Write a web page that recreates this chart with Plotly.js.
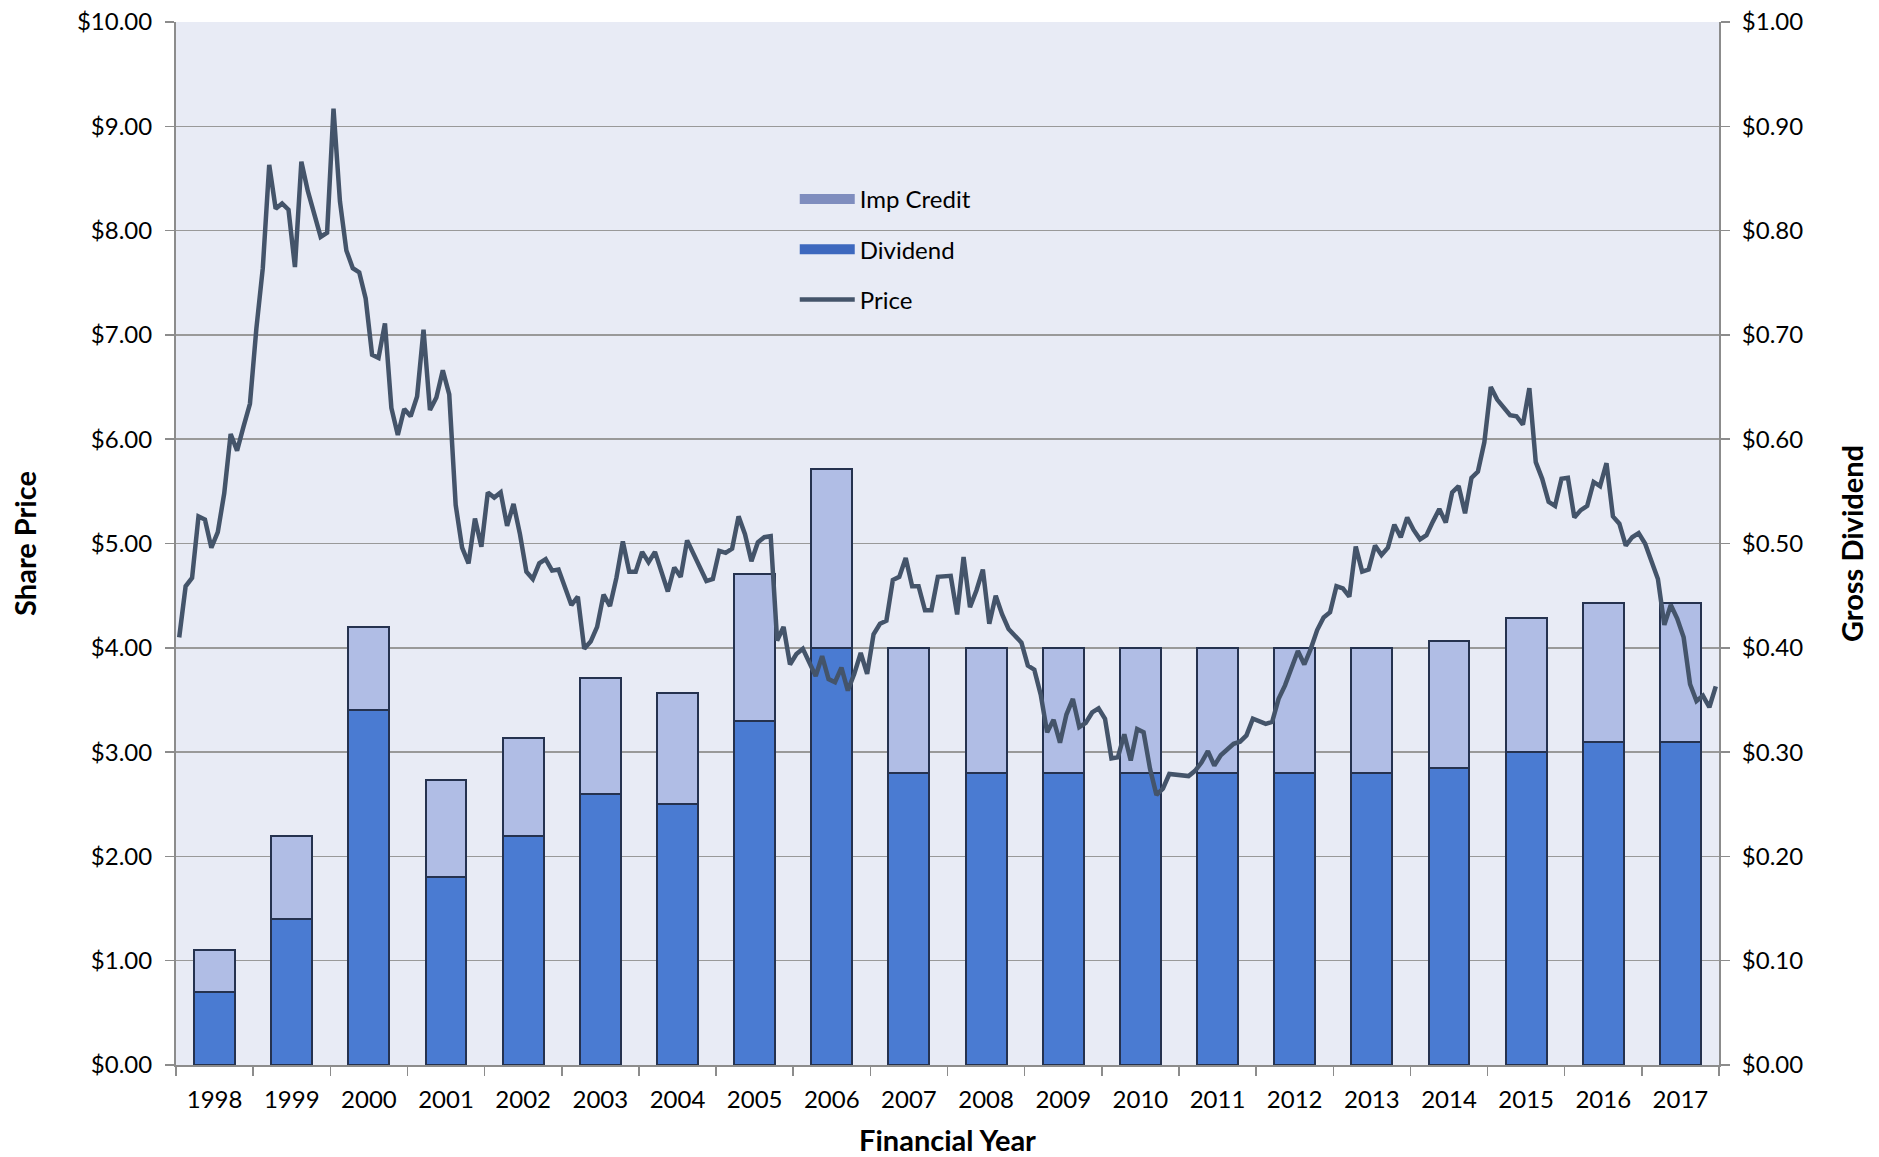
<!DOCTYPE html>
<html>
<head>
<meta charset="utf-8">
<script src="https://cdn.plot.ly/plotly-3.0.1.min.js"></script>
<style>
  html, body { margin: 0; padding: 0; background: #ffffff; }
  #chart { width: 1879px; height: 1157px; }
</style>
</head>
<body>
<div id="chart"></div>
<script>
// Financial years (categories)
const years = ['1998','1999','2000','2001','2002','2003','2004','2005','2006','2007',
               '2008','2009','2010','2011','2012','2013','2014','2015','2016','2017'];

// Cash dividend per share ($)
const dividend = [0.07,0.14,0.34,0.18,0.22,0.26,0.25,0.33,0.40,0.28,
                  0.28,0.28,0.28,0.28,0.28,0.28,0.285,0.30,0.31,0.31];

// Imputation (franking) credit per share ($)
const impCredit = [0.04,0.08,0.08,0.093,0.094,0.111,0.107,0.141,0.171,0.12,
                   0.12,0.12,0.12,0.12,0.12,0.12,0.122,0.129,0.133,0.133];

// Monthly share price ($), Jul 1997 .. Jun 2017
const price = [
4.10,4.59,4.67,5.26,5.23,4.96,5.11,5.48,6.05,5.89,6.12,6.34,
7.06,7.64,8.63,8.21,8.26,8.20,7.65,8.66,8.38,8.16,7.94,7.98,
9.17,8.28,7.81,7.64,7.60,7.35,6.81,6.78,7.11,6.30,6.04,6.29,
6.22,6.41,7.05,6.28,6.40,6.66,6.43,5.37,4.96,4.81,5.24,4.97,
5.49,5.44,5.49,5.17,5.38,5.09,4.73,4.66,4.81,4.85,4.74,4.75,
4.58,4.41,4.49,3.99,4.06,4.20,4.51,4.40,4.67,5.02,4.73,4.73,
4.92,4.82,4.92,4.74,4.54,4.77,4.68,5.03,4.90,4.77,4.64,4.66,
4.93,4.91,4.95,5.26,5.09,4.83,5.01,5.06,5.07,4.07,4.20,3.84,
3.94,3.99,3.87,3.73,3.92,3.70,3.67,3.81,3.59,3.75,3.95,3.75,
4.13,4.23,4.26,4.65,4.68,4.86,4.59,4.59,4.36,4.36,4.68,4.68,
4.69,4.32,4.87,4.39,4.55,4.75,4.23,4.50,4.32,4.18,4.12,4.05,
3.83,3.79,3.55,3.19,3.31,3.09,3.36,3.51,3.24,3.28,3.38,3.42,
3.32,2.94,2.95,3.17,2.92,3.22,3.19,2.84,2.59,2.65,2.79,2.78,
2.78,2.77,2.82,2.90,3.01,2.87,2.97,3.03,3.08,3.10,3.16,3.32,
3.30,3.27,3.29,3.51,3.64,3.81,3.97,3.84,3.99,4.17,4.29,4.34,
4.59,4.57,4.49,4.97,4.73,4.75,4.98,4.89,4.96,5.18,5.06,5.25,
5.13,5.04,5.08,5.21,5.33,5.20,5.49,5.55,5.29,5.63,5.69,5.97,
6.50,6.38,6.31,6.23,6.22,6.14,6.49,5.78,5.62,5.40,5.36,5.62,
5.63,5.25,5.32,5.36,5.59,5.55,5.77,5.26,5.19,4.98,5.06,5.10,
5.00,4.84,4.66,4.22,4.41,4.28,4.10,3.65,3.49,3.54,3.43,3.63
];

const FONT = 'Lato, "Open Sans", "DejaVu Sans", sans-serif';
const AXIS_GREY = '#8C8C8C';
const TICK_SIZE = 24;
const TITLE_SIZE = 29;

// month slots on a hidden overlay axis: one slot per price point
const monthSlot = price.map((_, i) => i + 0.5);

const traces = [
  {
    type: 'bar', name: 'Dividend', x: years, y: dividend,
    xaxis: 'x', yaxis: 'y',
    marker: { color: '#4A7BD2', line: { color: '#25324F', width: 2 } },
    showlegend: false, hoverinfo: 'skip'
  },
  {
    type: 'bar', name: 'Imp Credit', x: years, y: impCredit,
    xaxis: 'x', yaxis: 'y',
    marker: { color: '#B0BDE5', line: { color: '#25324F', width: 2 } },
    showlegend: false, hoverinfo: 'skip'
  },
  {
    type: 'scatter', mode: 'lines', name: 'Price', x: monthSlot, y: price,
    xaxis: 'x2', yaxis: 'y2',
    line: { color: '#44546A', width: 4.5 },
    legendgroup: 'g3', legendrank: 3,
    hoverinfo: 'skip'
  },
  // legend keys for the stacked bars (wide bar-shaped swatches, no data)
  {
    type: 'scatter', mode: 'lines', name: 'Imp Credit', x: [null], y: [null],
    xaxis: 'x2', yaxis: 'y2',
    line: { color: '#7F8DBE', width: 16 },
    legendgroup: 'g1', legendrank: 1, hoverinfo: 'skip'
  },
  {
    type: 'scatter', mode: 'lines', name: 'Dividend', x: [null], y: [null],
    xaxis: 'x2', yaxis: 'y2',
    line: { color: '#3D68BE', width: 16 },
    legendgroup: 'g2', legendrank: 2, hoverinfo: 'skip'
  }
];

const layout = {
  width: 1879, height: 1157,
  margin: { l: 176, r: 160, t: 22, b: 92 },
  paper_bgcolor: '#ffffff',
  plot_bgcolor: '#E8EBF5',
  font: { family: FONT, size: TICK_SIZE, color: '#000000' },
  barmode: 'stack',
  bargap: 0.47,
  showlegend: true,
  legend: {
    x: 0.401, y: 0.8515, xanchor: 'left', yanchor: 'top',
    bgcolor: 'rgba(0,0,0,0)',
    font: { family: FONT, size: 24, color: '#000000' },
    traceorder: 'grouped', tracegroupgap: 16,
    itemwidth: 55
  },
  xaxis: {
    type: 'category', range: [-0.5, 19.5],
    tickson: 'boundaries', ticks: 'outside', ticklen: 9, tickcolor: AXIS_GREY, tickwidth: 1.5,
    ticklabelstandoff: 12,
    showline: true, linecolor: AXIS_GREY, linewidth: 2,
    showgrid: false, zeroline: false,
    tickfont: { family: FONT, size: TICK_SIZE, color: '#000000' },
    title: { text: '<b>Financial Year</b>', font: { family: FONT, size: TITLE_SIZE, color: '#000000' }, standoff: 24 }
  },
  yaxis: {
    side: 'right', range: [0, 1], dtick: 0.1, tick0: 0,
    tickprefix: '$', tickformat: '.2f',
    ticks: 'outside', ticklen: 9, tickcolor: AXIS_GREY, tickwidth: 1.5,
    ticklabelstandoff: 7,
    showline: true, linecolor: AXIS_GREY, linewidth: 2,
    showgrid: true, gridcolor: '#999999', gridwidth: 1.5,
    zeroline: false,
    tickfont: { family: FONT, size: TICK_SIZE, color: '#000000' },
    title: { text: '<b>Gross Dividend</b>', font: { family: FONT, size: TITLE_SIZE, color: '#000000' }, standoff: 40 }
  },
  xaxis2: {
    overlaying: 'x', anchor: 'y2', range: [0, price.length],
    visible: false, showgrid: false, zeroline: false
  },
  yaxis2: {
    overlaying: 'y', side: 'left', anchor: 'x', range: [0, 10], dtick: 1, tick0: 0,
    tickprefix: '$', tickformat: '.2f',
    ticks: 'outside', ticklen: 9, tickcolor: AXIS_GREY, tickwidth: 1.5,
    ticklabelstandoff: 8,
    showline: true, linecolor: AXIS_GREY, linewidth: 2,
    showgrid: false, zeroline: false,
    tickfont: { family: FONT, size: TICK_SIZE, color: '#000000' },
    title: { text: '<b>Share Price</b>', font: { family: FONT, size: TITLE_SIZE, color: '#000000' }, standoff: 32 }
  }
};

Plotly.newPlot('chart', traces, layout, { staticPlot: true, displayModeBar: false });
</script>
</body>
</html>
